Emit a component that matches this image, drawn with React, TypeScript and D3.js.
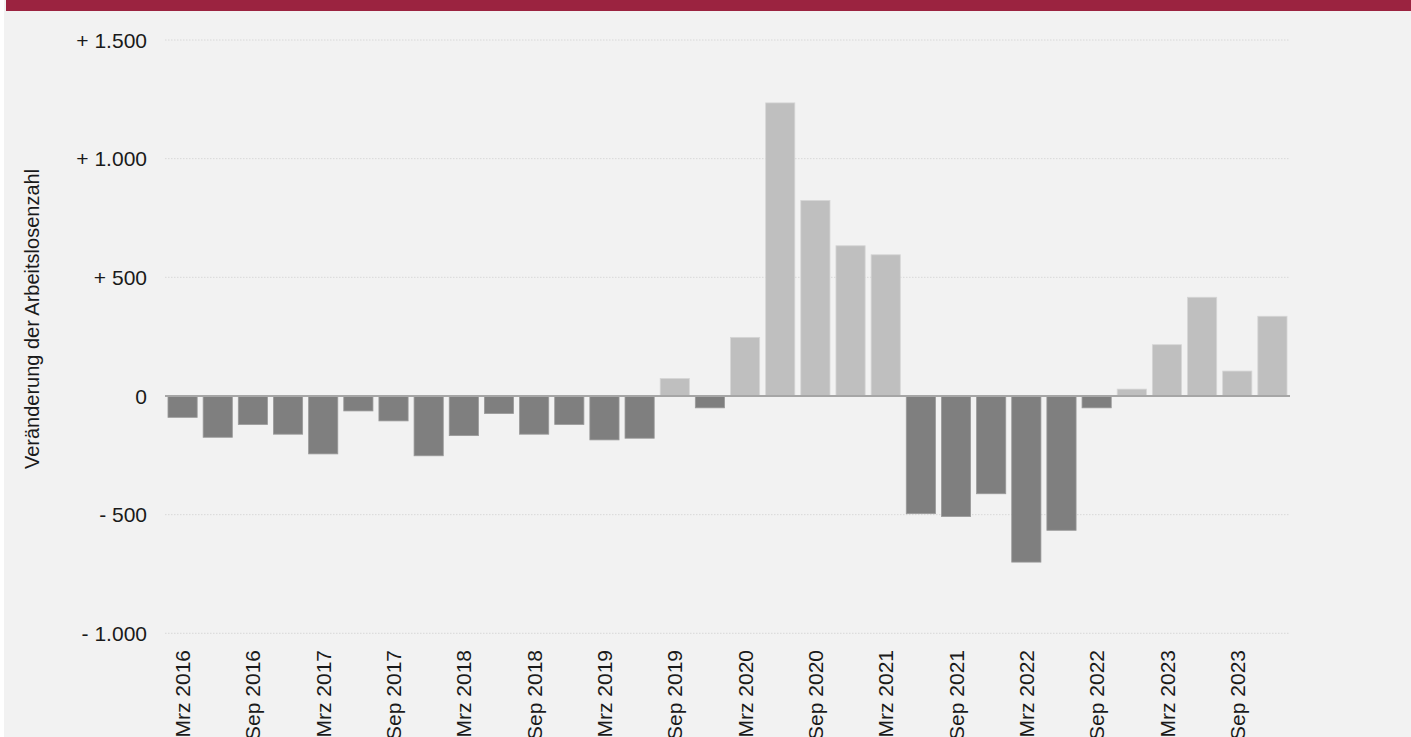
import React from "react";
import * as d3 from "d3";

const quarters: string[] = [];
const years = [2016, 2017, 2018, 2019, 2020, 2021, 2022, 2023];
const months = ["Mrz", "Jun", "Sep", "Dez"];
years.forEach((y) => months.forEach((m) => quarters.push(`${m} ${y}`)));

const values: number[] = [
  -90, -174, -120, -161, -244, -63, -105, -252,
  -167, -74, -161, -120, -185, -178, 74, -50,
  247, 1235, 824, 633, 595, -496, -508, -412,
  -700, -566, -50, 29, 216, 416, 105, 336,
];

const yTicks: number[] = [-1000, -500, 0, 500, 1000, 1500];
const yTickLabels: string[] = ["- 1.000", "- 500", "0", "+ 500", "+ 1.000", "+ 1.500"];
const xLabelStep = 2;

const title = "Veränderung der Arbeitslosenzahl gegenüber dem Vorjahresquartal (in Personen)";
const yAxisTitle = "Veränderung der Arbeitslosenzahl";

const W = 1411;
const H = 737;
const FONT = "'Liberation Sans', Arial, sans-serif";

export default function App() {
  const x = d3
    .scaleBand<string>()
    .domain(quarters)
    .range([165, 1290])
    .paddingInner(0.17)
    .paddingOuter(0.085);
  const y = d3.scaleLinear().domain([-1000, 1500]).range([633.3, 40]);

  return (
    <svg
      width={W}
      height={H}
      style={{ position: "absolute", left: 0, top: 0, display: "block" }}
      fontFamily={FONT}
    >
      <rect x={0} y={0} width={W} height={H} fill="#ffffff" />
      <rect x={4} y={0} width={W - 4} height={H} fill="#f2f2f2" />
      <rect x={6} y={0} width={W - 6} height={11} fill="#9b2340" />
      <text x={640} y={-4} textAnchor="middle" fill="#ffffff" fontWeight="bold" fontSize={20}>
        {title}
      </text>

      {yTicks.map((t, i) => (
        <g key={t}>
          {t !== 0 && (
            <line
              x1={165}
              x2={1290}
              y1={y(t)}
              y2={y(t)}
              stroke="#d8d8d8"
              strokeWidth={1}
              strokeDasharray="1.5,1.5"
            />
          )}
          <text
            x={147}
            y={y(t)}
            dy="0.36em"
            textAnchor="end"
            fontSize={21}
            fill="#1a1a1a"
          >
            {yTickLabels[i]}
          </text>
        </g>
      ))}

      {values.map((v, i) => {
        const q = quarters[i];
        const top = y(Math.max(0, v));
        const h = Math.abs(y(v) - y(0));
        return (
          <rect
            key={q}
            x={x(q)}
            y={top}
            width={x.bandwidth()}
            height={h}
            fill={v >= 0 ? "#bfbfbf" : "#7f7f7f"}
            stroke={v >= 0 ? "#d6d6d6" : "#9a9a9a"}
            strokeWidth={0.8}
          />
        );
      })}

      <line x1={165} x2={1290} y1={y(0)} y2={y(0)} stroke="#a6a6a6" strokeWidth={2.2} />

      {quarters.map((q, i) =>
        i % xLabelStep === 0 ? (
          <text
            key={q}
            transform={`translate(${(x(q) as number) + x.bandwidth() / 2},650) rotate(-90)`}
            dy="0.36em"
            textAnchor="end"
            fontSize={21}
            fill="#1a1a1a"
          >
            {q}
          </text>
        ) : null
      )}

      <text
        transform={`translate(39,319) rotate(-90)`}
        textAnchor="middle"
        fontSize={20}
        fill="#1a1a1a"
      >
        {yAxisTitle}
      </text>
    </svg>
  );
}
